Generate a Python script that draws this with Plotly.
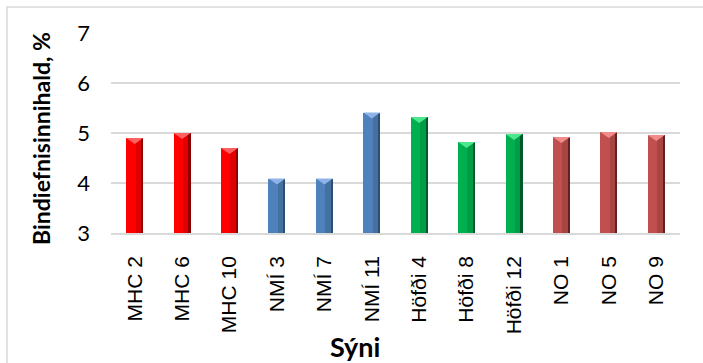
import plotly.graph_objects as go

# Samples and binder content (%)
samples = ["MHC 2", "MHC 6", "MHC 10", "NMÍ 3", "NMÍ 7", "NMÍ 11",
           "Höfði 4", "Höfði 8", "Höfði 12", "NO 1", "NO 5", "NO 9"]
binder = [4.90, 5.00, 4.70, 4.09, 4.09, 5.41, 5.32, 4.82, 4.98, 4.92, 5.02, 4.96]
groups = ["MHC", "MHC", "MHC", "NMI", "NMI", "NMI",
          "HOF", "HOF", "HOF", "NO", "NO", "NO"]
y_ticks = [3, 4, 5, 6, 7]

# Shading per group: main face, darker right side, deep edge, light top bevel
palette = {
    "MHC": dict(main="#FF0000", side="#E00000", edge="#8C0000", top="#FF6161"),
    "NMI": dict(main="#4F81BD", side="#45719F", edge="#2C4D74", top="#8DB3E8"),
    "HOF": dict(main="#00B050", side="#009C46", edge="#005A28", top="#4DE88E"),
    "NO":  dict(main="#C0504D", side="#A84543", edge="#5E2322", top="#F28C8A"),
}

xs = list(range(len(samples)))
half = 0.18          # half bar width in category units
bevel = 0.12         # height of the top bevel in axis units

fig = go.Figure()

# main bar face
fig.add_trace(go.Bar(
    x=xs, y=binder, width=2 * half,
    marker=dict(color=[palette[g]["main"] for g in groups], line=dict(width=0)),
    hoverinfo="skip", showlegend=False,
))
# darker right half of the cylinder
fig.add_trace(go.Bar(
    x=xs, y=binder, width=half * 0.9, offset=half * 0.1,
    marker=dict(color=[palette[g]["side"] for g in groups], line=dict(width=0)),
    hoverinfo="skip", showlegend=False,
))
# deep shadow along the right edge
fig.add_trace(go.Bar(
    x=xs, y=binder, width=half * 0.2, offset=half * 0.8,
    marker=dict(color=[palette[g]["edge"] for g in groups], line=dict(width=0)),
    hoverinfo="skip", showlegend=False,
))

# light bevel triangle on top of each bar
for x, v, g in zip(xs, binder, groups):
    fig.add_trace(go.Scatter(
        x=[x - half, x + half, x, x - half],
        y=[v, v, v - bevel, v],
        mode="lines", fill="toself",
        fillcolor=palette[g]["top"], line=dict(width=0),
        hoverinfo="skip", showlegend=False,
    ))

grid = "#D9D9D9"

fig.update_layout(
    width=703, height=363,
    margin=dict(l=111, r=23, t=33, b=130),
    paper_bgcolor="white", plot_bgcolor="white",
    barmode="overlay",
    bargap=0,
    font=dict(family="Lato", color="#000000"),
    xaxis=dict(
        range=[-0.5, len(samples) - 0.5],
        tickmode="array", tickvals=xs, ticktext=samples,
        tickangle=-90,
        tickfont=dict(family="Liberation Sans", size=21, color="#000000"),
        showgrid=False, zeroline=False,
        showline=True, linecolor=grid, linewidth=1.5,
        ticks="", ticklabelstandoff=13,
        fixedrange=True,
    ),
    yaxis=dict(
        range=[3, 7],
        tickmode="array", tickvals=y_ticks,
        tickfont=dict(family="Lato", size=22, color="#000000"),
        showgrid=True, gridcolor=grid, gridwidth=1.5,
        zeroline=False, showline=False,
        ticks="", ticklabelstandoff=20,
        fixedrange=True,
    ),
    annotations=[
        dict(text="<b>Bindiefnisinnihald, %</b>", textangle=-90,
             xref="paper", yref="paper", x=-0.123, y=0.47,
             xanchor="center", yanchor="middle", showarrow=False,
             font=dict(family="Lato", size=23, color="#000000")),
        dict(text="<b>Sýni</b>",
             xref="paper", yref="paper", x=0.429, y=-0.57,
             xanchor="center", yanchor="middle", showarrow=False,
             font=dict(family="Lato", size=27, color="#000000")),
    ],
    shapes=[
        dict(type="rect", xref="paper", yref="paper",
             x0=-0.1828, x1=1.2, y0=-0.8, y1=1.13,
             line=dict(color=grid, width=1.5), fillcolor="rgba(0,0,0,0)",
             layer="below"),
    ],
)

fig.write_html("out.html")
